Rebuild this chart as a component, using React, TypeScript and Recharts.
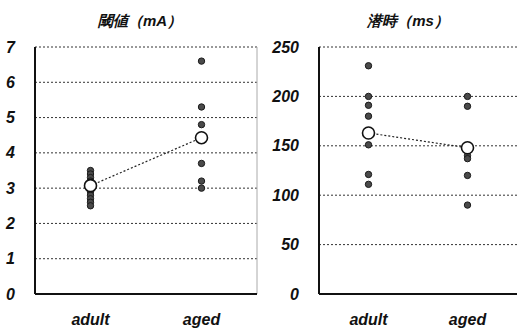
import React from 'react';
import { ScatterChart, Scatter, XAxis, YAxis, CartesianGrid, ReferenceLine } from 'recharts';

const categories = ['adult', 'aged'];

const thresholdAdult = [3.5, 3.4, 3.3, 3.2, 3.1, 3.0, 2.9, 2.8, 2.7, 2.6, 2.5];
const thresholdAged = [6.6, 5.3, 4.8, 3.7, 3.2, 3.0];
const thresholdMeans = [3.07, 4.43];
const thresholdTicks = [0, 1, 2, 3, 4, 5, 6, 7];

const latencyAdult = [231, 200, 191, 180, 151, 121, 111];
const latencyAged = [200, 190, 140, 137, 120, 90];
const latencyMeans = [163, 148];
const latencyTicks = [0, 50, 100, 150, 200, 250];

const FONT = '"Liberation Sans", Arial, sans-serif';

const toPoints = (groups: number[][]) =>
  groups.flatMap((vals, i) => vals.map((v) => ({ x: i + 0.5, y: v })));
const toMeans = (means: number[]) => means.map((v, i) => ({ x: i + 0.5, y: v }));

const DotShape = (p: any) => (
  <circle cx={p.cx} cy={p.cy} r={3.2} fill="#4a4a4a" stroke="#1a1a1a" strokeWidth={1} />
);
const MeanShape = (p: any) => (
  <circle cx={p.cx} cy={p.cy} r={6} fill="#ffffff" stroke="#111" strokeWidth={1.6} />
);

const YTick = (p: any) => (
  <text
    x={p.x - 12}
    y={p.y}
    textAnchor="end"
    dominantBaseline="central"
    fontFamily={FONT}
    fontWeight="bold"
    fontStyle="italic"
    fontSize={16}
    fill="#111"
  >
    {p.payload.value}
  </text>
);

const XTick = (p: any) => (
  <text
    x={p.x}
    y={p.y + 17}
    textAnchor="middle"
    dominantBaseline="central"
    fontFamily={FONT}
    fontWeight="bold"
    fontStyle="italic"
    fontSize={16}
    fill="#111"
  >
    {categories[Math.floor(p.payload.value)]}
  </text>
);

interface PanelProps {
  left: number;
  width: number;
  yWidth: number;
  title: string;
  titleCenter: number;
  points: { x: number; y: number }[];
  means: { x: number; y: number }[];
  ticks: number[];
  rightLine: boolean;
}

const Panel = ({ left, width, yWidth, title, titleCenter, points, means, ticks, rightLine }: PanelProps) => (
  <>
    <div
      style={{
        position: 'absolute',
        left: titleCenter - 70,
        width: 140,
        top: 11,
        textAlign: 'center',
        fontFamily: FONT,
        fontWeight: 'bold',
        fontStyle: 'italic',
        fontSize: 15,
        lineHeight: '20px',
        color: '#111',
      }}
    >
      {title}
    </div>
    <div style={{ position: 'absolute', left, top: 0 }}>
      <ScatterChart width={width} height={329} margin={{ top: 47, right: rightLine ? 3 : 0, bottom: 0, left: 0 }}>
        <CartesianGrid vertical={false} stroke="#333" strokeDasharray="2 2" />
        <XAxis
          type="number"
          dataKey="x"
          domain={[0, 2]}
          ticks={[0.5, 1.5]}
          tick={<XTick />}
          tickLine={false}
          axisLine={{ stroke: '#111', strokeWidth: 2 }}
          height={35}
        />
        <YAxis
          type="number"
          dataKey="y"
          domain={[ticks[0], ticks[ticks.length - 1]]}
          ticks={ticks}
          tick={<YTick />}
          tickLine={false}
          axisLine={{ stroke: '#111', strokeWidth: 2 }}
          width={yWidth}
          interval={0}
        />
        {rightLine && <ReferenceLine x={2} stroke="#aaa" strokeWidth={1} />}
        <Scatter data={points} shape={DotShape} isAnimationActive={false} />
        <Scatter
          data={means}
          shape={MeanShape}
          line={{ stroke: '#222', strokeWidth: 1.2, strokeDasharray: '2 2' }}
          lineType="joint"
          isAnimationActive={false}
        />
      </ScatterChart>
    </div>
  </>
);

export default function App() {
  return (
    <div
      style={{
        position: 'absolute',
        left: 0,
        top: 0,
        width: 517,
        height: 329,
        overflow: 'hidden',
        background: '#fff',
      }}
    >
      <Panel
        left={0}
        width={260}
        yWidth={35}
        title="閾値（mA）"
        titleCenter={140}
        points={toPoints([thresholdAdult, thresholdAged])}
        means={toMeans(thresholdMeans)}
        ticks={thresholdTicks}
        rightLine={true}
      />
      <Panel
        left={258}
        width={259}
        yWidth={61}
        title="潜時（ms）"
        titleCenter={408}
        points={toPoints([latencyAdult, latencyAged])}
        means={toMeans(latencyMeans)}
        ticks={latencyTicks}
        rightLine={false}
      />
    </div>
  );
}
